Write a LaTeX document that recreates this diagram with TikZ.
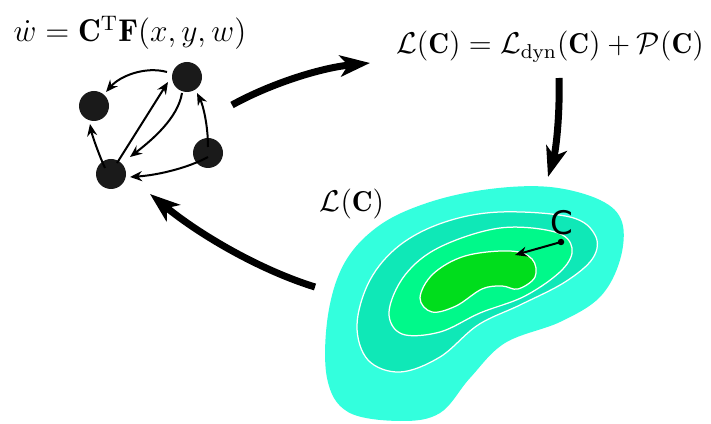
\documentclass[tikz,border=0pt]{standalone}
\usepackage{fontspec}
\newfontfamily\labelfont{DejaVu Sans}
\usetikzlibrary{arrows.meta,calc}
\definecolor{lvA}{HTML}{33FFDD}
\definecolor{lvB}{HTML}{0FE8B7}
\definecolor{lvC}{HTML}{00F98A}
\definecolor{lvD}{HTML}{00DD1C}
\definecolor{nodegray}{HTML}{1A1A1A}
\tikzset{
  dotnode/.style={circle, fill=nodegray, minimum size=12pt, inner sep=0pt},
  edge/.style={line width=0.8pt, -{Stealth[length=4.8pt,width=4pt]}},
  bigarrow/.style={line width=2.8pt, -{Stealth[length=12pt,width=8.5pt,inset=3.2pt]}},
  eqtext/.style={inner sep=0pt, font=\fontsize{11.5}{14}\selectfont},
  contour/.style={draw=white, line width=0.5pt},
  blob/.style={smooth cycle, tension=0.6}
}
\begin{document}
\begin{tikzpicture}[x=0.4pt,y=-0.4pt]
\useasboundingbox (0,0) rectangle (711,424);

% texts
\node[eqtext, font=\fontsize{12}{14}\selectfont, scale=1.05, transform shape] (eqdyn) at (130,33) {$\dot{w} = \mathbf{C}^{\mathrm{T}}\mathbf{F}(x,y,w)$};
\node[eqtext] (eqloss) at (550,47) {$\mathcal{L}(\mathbf{C}) = \mathcal{L}_{\mathrm{dyn}}(\mathbf{C}) + \mathcal{P}(\mathbf{C})$};
\node[eqtext] (lab) at (352,204) {$\mathcal{L}(\mathbf{C})$};

% landscape
\fill[lvA] plot[blob] coordinates {(550,187) (600,200) (622,222) (620,260) (600,297) (560,322) (505,343) (470,378) (440,413) (400,421) (348,412) (327,378) (328,315) (345,262) (380,225) (430,202) (490,189)};
\draw[contour, fill=lvB] plot[blob] coordinates {(500,212) (570,217) (595,235) (593,258) (565,282) (520,305) (478,325) (440,357) (400,372) (368,360) (357,325) (370,280) (400,245) (445,222)};
\draw[contour, fill=lvC] plot[blob] coordinates {(500,228) (555,232) (572,248) (562,270) (525,296) (480,313) (440,332) (402,334) (389,312) (405,275) (440,247)};
\draw[contour, fill=lvD] plot[blob] coordinates {(510,251) (532,259) (535,277) (518,289) (502,286) (482,289) (456,306) (432,312) (420,298) (433,274) (465,256)};

% point C
\node[circle, fill=black, minimum size=2.6pt, inner sep=0pt] (cpt) at (561,242) {};
\node[inner sep=0pt, font=\labelfont\fontsize{13}{15}\selectfont] (clab) at (562,223) {C};
\coordinate (cmin) at (515,255);
\draw[edge] (cpt.center) -- (cmin);

% graph nodes
\node[dotnode] (A) at (94,106) {};
\node[dotnode] (B) at (187,77) {};
\node[dotnode] (D) at (208,153) {};
\node[dotnode] (E) at (111,174) {};

\draw[edge] ($(B)+(-20,-5)$) .. controls (145,66) and (120,76) .. ($(A)+(12,-14)$);
\draw[edge] ($(E)+(6,-11)$) -- ($(B)+(-19,5)$);
\draw[edge] ($(B)+(-5,16)$) .. controls (178,118) and (152,140) .. ($(E)+(19,-17)$);
\draw[edge] ($(E)+(-6,-6)$) .. controls (99,155) and (92,135) .. ($(A)+(-4,18)$);
\draw[edge] ($(D)+(0,4)$) .. controls (190,167) and (160,175) .. ($(E)+(19,3)$);
\draw[edge] ($(D)+(0,-6)$) .. controls (208,125) and (203,105) .. ($(B)+(10,16)$);

% big arrows
\coordinate (g1) at (232,105);
\coordinate (f1) at (370,63);
\coordinate (f2) at (559,78);
\coordinate (l1) at (548,177);
\coordinate (l2) at (315,287);
\coordinate (g2) at (150,194);
\draw[bigarrow] (g1) .. controls (270,84) and (320,68) .. (f1);
\draw[bigarrow] (f2) .. controls (560,115) and (556,150) .. (l1);
\draw[bigarrow] (l2) .. controls (260,270) and (200,235) .. (g2);
\end{tikzpicture}
\end{document}
